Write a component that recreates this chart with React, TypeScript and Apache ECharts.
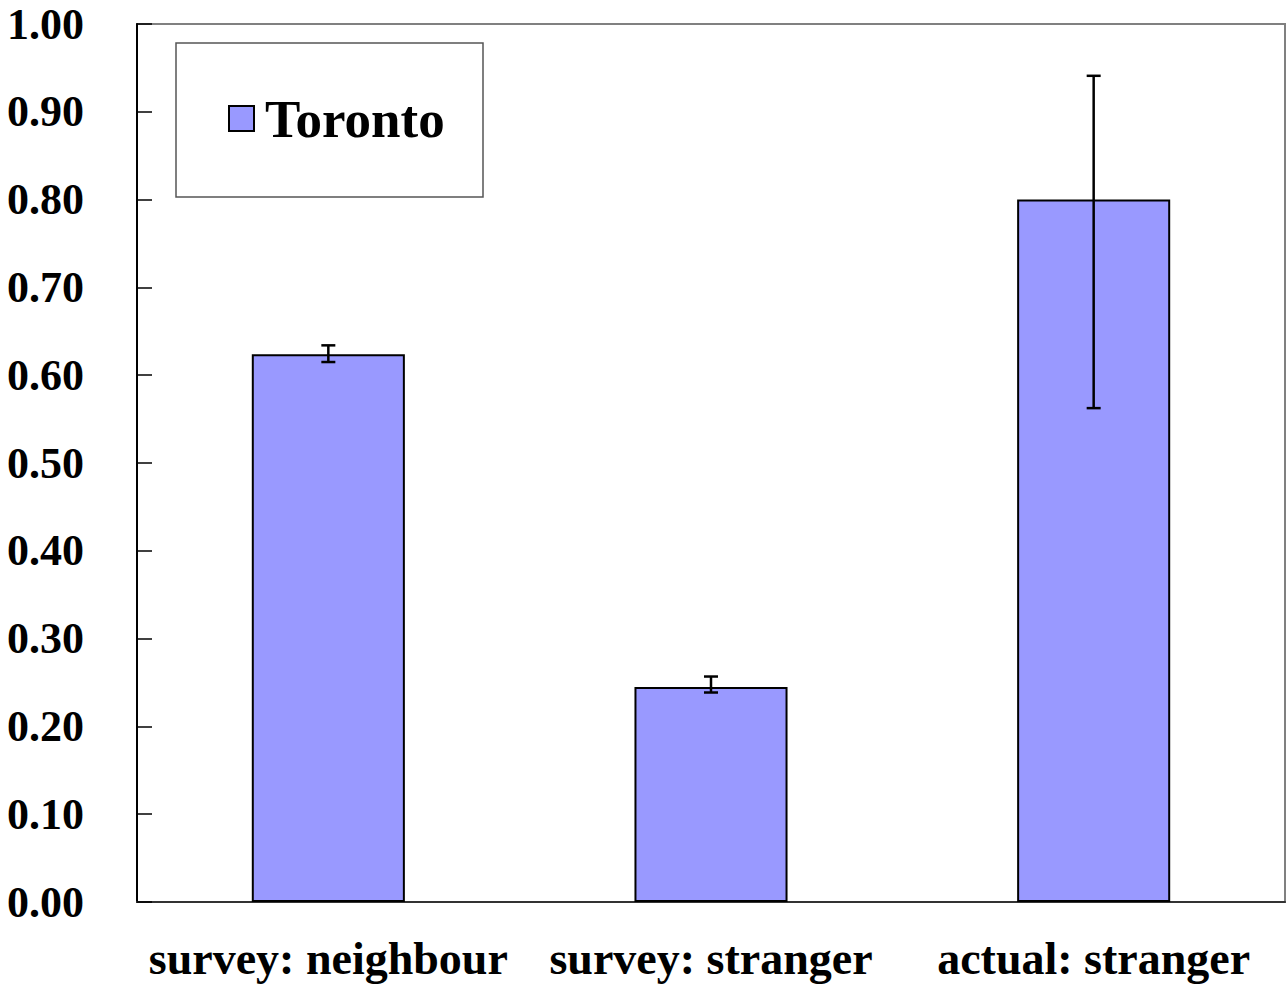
import React, { useEffect, useRef } from "react";
import * as echarts from "echarts";

const categories = ["survey: neighbour", "survey: stranger", "actual: stranger"];
const values = [0.624, 0.245, 0.8];
const errLow = [0.615, 0.2386, 0.5625];
const errHigh = [0.634, 0.2568, 0.941];
const seriesName = "Toronto";

const FONT = '"Liberation Serif", "Times New Roman", serif';

export default function App() {
  const ref = useRef<HTMLDivElement>(null);
  useEffect(() => {
    if (!ref.current) return;
    const chart = echarts.init(ref.current, null, { renderer: "svg" });
    const errData = categories.map((_, i) => [i, errLow[i], errHigh[i]]);
    chart.setOption({
      animation: false,
      backgroundColor: "#ffffff",
      grid: {
        left: 137,
        right: 2,
        top: 24,
        bottom: 84,
        show: true,
        borderColor: "#808080",
        borderWidth: 2,
      },
      legend: {
        left: 228,
        top: 92,
        padding: 0,
        itemWidth: 25,
        itemHeight: 25,
        data: [{ name: seriesName, icon: "rect" }],
        textStyle: {
          fontFamily: FONT,
          fontWeight: "bold",
          fontSize: 53,
          color: "#000",
          padding: [0, 0, 0, 6],
        },
        selectedMode: false,
      },
      graphic: [
        {
          type: "rect",
          shape: { x: 176, y: 43, width: 307, height: 154 },
          style: { fill: "none", stroke: "#555", lineWidth: 1.5 },
          z: 10,
        },
      ],
      xAxis: {
        type: "category",
        data: categories,
        boundaryGap: true,
        axisLine: { lineStyle: { color: "#333", width: 2 } },
        axisTick: { inside: true, length: 15, lineStyle: { color: "#333", width: 1 } },
        axisLabel: {
          interval: 0,
          fontFamily: FONT,
          fontWeight: "bold",
          fontSize: 46,
          color: "#000",
          margin: 33,
        },
      },
      yAxis: {
        type: "value",
        min: 0,
        max: 1,
        interval: 0.1,
        splitLine: { show: false },
        axisLine: { show: true, lineStyle: { color: "#000", width: 2 } },
        axisTick: { show: true, inside: true, length: 15, lineStyle: { color: "#000", width: 1.5 } },
        axisLabel: {
          fontFamily: FONT,
          fontWeight: "bold",
          fontSize: 44,
          lineHeight: 40,
          color: "#000",
          margin: 53,
          formatter: (v: number) => v.toFixed(2),
        },
      },
      series: [
        {
          name: seriesName,
          type: "bar",
          data: values,
          barWidth: "40%",
          itemStyle: { color: "#9999FF", borderColor: "#000", borderWidth: 2 },
        },
        {
          type: "custom",
          data: errData,
          z: 5,
          renderItem: (params: any, api: any) => {
            const i = api.value(0);
            const lo = api.coord([i, api.value(1)]);
            const hi = api.coord([i, api.value(2)]);
            const hw = 7;
            const style = { stroke: "#000", lineWidth: 2.5 };
            return {
              type: "group",
              children: [
                { type: "line", shape: { x1: lo[0], y1: lo[1], x2: hi[0], y2: hi[1] }, style },
                { type: "line", shape: { x1: lo[0] - hw, y1: lo[1], x2: lo[0] + hw, y2: lo[1] }, style },
                { type: "line", shape: { x1: hi[0] - hw, y1: hi[1], x2: hi[0] + hw, y2: hi[1] }, style },
              ],
            };
          },
        },
      ],
    });
    return () => chart.dispose();
  }, []);
  return (
    <div
      ref={ref}
      style={{ position: "absolute", left: 0, top: 0, width: 1287, height: 986 }}
    />
  );
}
